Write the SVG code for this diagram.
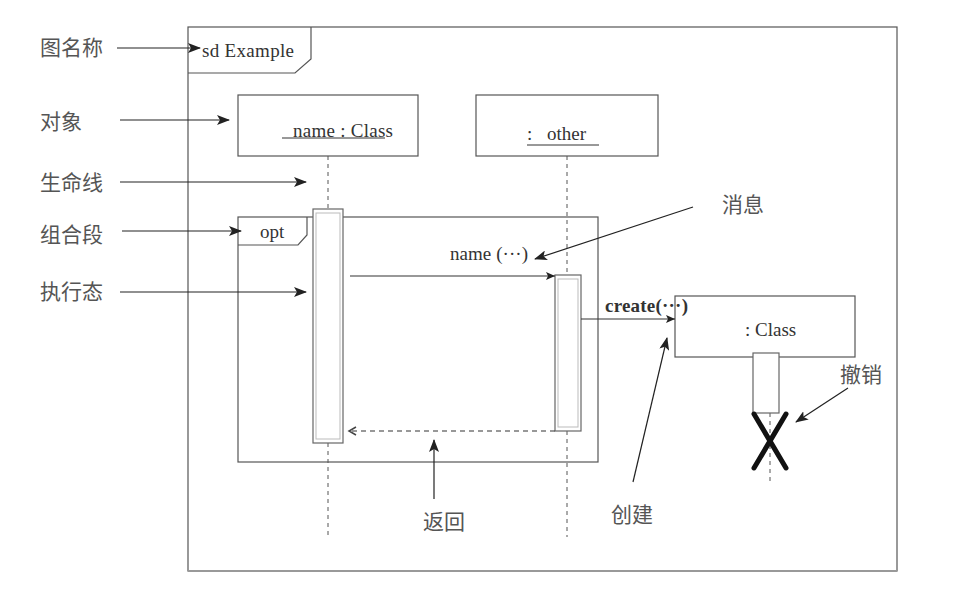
<svg xmlns="http://www.w3.org/2000/svg" width="971" height="593" viewBox="0 0 971 593">
<defs>
<marker id="ah" markerWidth="14" markerHeight="10" refX="12" refY="5" orient="auto" markerUnits="userSpaceOnUse">
<path d="M0,0 L13,5 L0,10 L3,5 z" fill="#222"/>
</marker>
<marker id="ahs" markerWidth="10" markerHeight="8" refX="9" refY="4" orient="auto" markerUnits="userSpaceOnUse">
<path d="M0,0 L9,4 L0,8 L2,4 z" fill="#222"/>
</marker>
<marker id="open" markerWidth="12" markerHeight="12" refX="9" refY="5" orient="auto" markerUnits="userSpaceOnUse">
<path d="M2,1 L9,5 L2,9" fill="none" stroke="#444" stroke-width="1.5"/>
</marker>
<style>
.frame{fill:none;stroke:#555;stroke-width:1.2}
.box{fill:#fff;stroke:#555;stroke-width:1.2}
.act{fill:#fff;stroke:#666;stroke-width:1.2}
.acti{fill:none;stroke:#bbb;stroke-width:1}
.life{stroke:#555;stroke-width:1;stroke-dasharray:4,4;fill:none}
.msg{stroke:#333;stroke-width:1.2;fill:none}
.ann{stroke:#222;stroke-width:1.2;fill:none}
.t{font-family:"Liberation Serif","Times New Roman",serif;font-size:19px;fill:#333}
.cn{font-family:"Liberation Serif","Noto Sans CJK SC",serif;font-size:21px;fill:#555}
</style>
</defs>
<rect width="971" height="593" fill="#fff"/>

<g id="frame">
<rect class="frame" x="188" y="27" width="709" height="544"/>
<line x1="188" y1="571" x2="897" y2="571" stroke="#999" stroke-width="2"/>
<path class="frame" d="M188,73 L295,73 L311,59 L311,27"/>
<text class="t" x="202" y="57" textLength="92">sd Example</text>
</g>

<g id="obj-name">
<rect class="box" x="238" y="95" width="180" height="61"/>
<text class="t" x="293" y="137" textLength="100">name : Class</text>
<line x1="282" y1="138" x2="385" y2="138" stroke="#333" stroke-width="1"/>
</g>

<g id="obj-other">
<rect class="box" x="476" y="95" width="182" height="61"/>
<text class="t" x="527" y="140">: </text>
<text class="t" x="547" y="140">other</text>
<line x1="527" y1="145" x2="599" y2="145" stroke="#333" stroke-width="1"/>
</g>

<g id="opt">
<rect class="frame" x="238" y="217" width="360" height="245"/>
<path class="frame" d="M238,245 L298,245 L307,235 L307,217"/>
<text class="t" x="260" y="238">opt</text>
</g>

<g id="lifelines">
<line class="life" x1="328" y1="156" x2="328" y2="209"/>
<line class="life" x1="328" y1="443" x2="328" y2="537"/>
<line class="life" x1="567" y1="156" x2="567" y2="275"/>
<line class="life" x1="567" y1="431" x2="567" y2="537"/>
<line class="life" x1="770" y1="413" x2="770" y2="482"/>
</g>

<g id="act1">
<rect class="act" x="313" y="209" width="30" height="234"/>
<rect class="acti" x="316" y="213" width="24" height="226"/>
</g>

<g id="act2">
<rect class="act" x="555" y="275" width="26" height="156"/>
<rect class="acti" x="558" y="279" width="20" height="148"/>
</g>

<g id="obj-class">
<rect class="box" x="675" y="296" width="180" height="61"/>
<text class="t" x="745" y="336">: Class</text>
</g>

<g id="act3">
<rect class="act" x="753" y="353" width="26" height="60"/>
</g>

<g id="destroy">
<line x1="754" y1="414" x2="786" y2="468" stroke="#111" stroke-width="5" stroke-linecap="round"/>
<line x1="786" y1="414" x2="754" y2="468" stroke="#111" stroke-width="5" stroke-linecap="round"/>
</g>

<g id="connectors">
<line class="msg" x1="350" y1="276" x2="555" y2="276" marker-end="url(#ahs)"/>
<text class="t" x="450" y="260" textLength="78">name (···)</text>
<line class="msg" x1="581" y1="319" x2="675" y2="319" marker-end="url(#ahs)"/>
<text class="t" x="605" y="312" font-weight="bold" font-size="17" textLength="83">create(···)</text>
<line class="msg" x1="555" y1="431" x2="349" y2="431" stroke-dasharray="5,4" marker-end="url(#open)"/>
</g>

<g id="annotations">
<text class="cn" x="40" y="55">图名称</text>
<line class="ann" x1="117" y1="48" x2="200" y2="48" marker-end="url(#ah)"/>
<text class="cn" x="40" y="129">对象</text>
<line class="ann" x1="120" y1="120" x2="229" y2="120" marker-end="url(#ah)"/>
<text class="cn" x="40" y="190">生命线</text>
<line class="ann" x1="120" y1="182" x2="306" y2="182" marker-end="url(#ah)"/>
<text class="cn" x="40" y="242">组合段</text>
<line class="ann" x1="122" y1="231" x2="241" y2="231" marker-end="url(#ah)"/>
<text class="cn" x="40" y="299">执行态</text>
<line class="ann" x1="120" y1="292" x2="306" y2="292" marker-end="url(#ah)"/>
<text class="cn" x="722" y="212">消息</text>
<line class="ann" x1="693" y1="207" x2="535" y2="259" marker-end="url(#ah)"/>
<text class="cn" x="611" y="522">创建</text>
<line class="ann" x1="633" y1="482" x2="667" y2="338" marker-end="url(#ah)"/>
<text class="cn" x="840" y="382">撤销</text>
<line class="ann" x1="848" y1="388" x2="796" y2="422" marker-end="url(#ah)"/>
<text class="cn" x="423" y="529">返回</text>
<line class="ann" x1="434" y1="499" x2="434" y2="440" stroke-width="2.5" marker-end="url(#ah)"/>
</g>
</svg>
